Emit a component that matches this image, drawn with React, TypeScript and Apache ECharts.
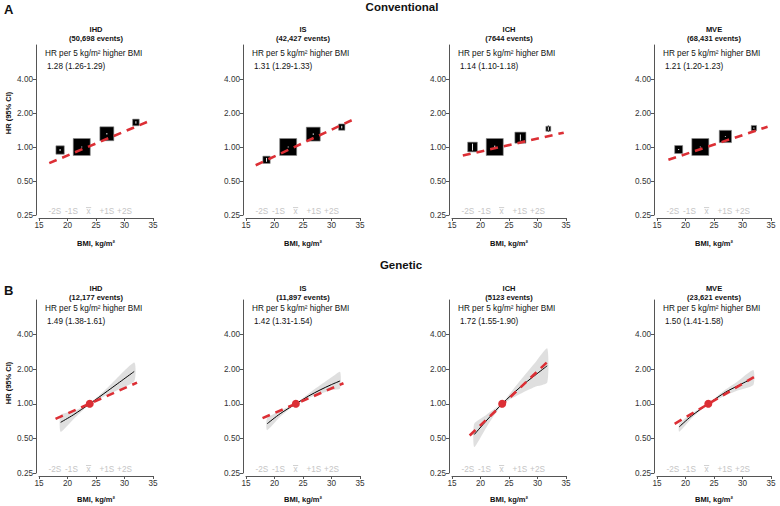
import React, { useEffect, useRef } from 'react';
import * as echarts from 'echarts';

// ---------- Data ----------
const outcomes = ['IHD', 'IS', 'ICH', 'MVE'];
const convEvents = ['(50,698 events)', '(42,427 events)', '(7644 events)', '(68,431 events)'];
const convEstimates = ['1.28 (1.26-1.29)', '1.31 (1.29-1.33)', '1.14 (1.10-1.18)', '1.21 (1.20-1.23)'];
const genEvents = ['(12,177 events)', '(11,897 events)', '(5123 events)', '(23,621 events)'];
const genEstimates = ['1.49 (1.38-1.61)', '1.42 (1.31-1.54)', '1.72 (1.55-1.90)', '1.50 (1.41-1.58)'];

const yTicks = [0.25, 0.5, 1, 2, 4];
const sigmaLabels = ['-2S', '-1S', 'x', '+1S', '+2S'];
const sigmaOverline = [false, false, true, false, false];
const sigmaBMI = [17.8, 20.7, 23.7, 26.9, 30.0];
const sigmaHR = 0.267;

// Conventional boxes: [BMI, HR, lower, upper, relative weight]
const convIHDBoxes = [
  [18.7, 0.94, 0.92, 0.96, 0.49],
  [22.5, 1.0, 0.99, 1.01, 1.0],
  [26.9, 1.31, 1.29, 1.33, 0.82],
  [32.0, 1.65, 1.61, 1.69, 0.39],
];
const convISBoxes = [
  [18.6, 0.77, 0.74, 0.8, 0.43],
  [22.4, 1.0, 0.99, 1.01, 1.0],
  [26.8, 1.3, 1.28, 1.32, 0.82],
  [31.8, 1.5, 1.46, 1.54, 0.37],
];
const convICHBoxes = [
  [18.6, 1.0, 0.93, 1.07, 0.57],
  [22.5, 1.0, 0.97, 1.03, 1.0],
  [27.0, 1.21, 1.14, 1.29, 0.65],
  [31.9, 1.45, 1.36, 1.55, 0.29],
];
const convMVEBoxes = [
  [18.8, 0.95, 0.94, 0.96, 0.47],
  [22.6, 1.0, 0.99, 1.01, 1.0],
  [27.0, 1.24, 1.23, 1.25, 0.72],
  [32.0, 1.47, 1.45, 1.49, 0.31],
];
const convBoxes = [convIHDBoxes, convISBoxes, convICHBoxes, convMVEBoxes];

// Conventional fitted lines (endpoints)
const convIHDLine = [[16.8, 0.72], [34.5, 1.71]];
const convISLine = [[16.7, 0.69], [34.1, 1.78]];
const convICHLine = [[16.9, 0.84], [34.6, 1.34]];
const convMVELine = [[17.0, 0.77], [34.4, 1.51]];
const convLines = [convIHDLine, convISLine, convICHLine, convMVELine];

// Genetic curves [BMI, HR]
const genIHDCurve = [[18.8, 0.69], [21, 0.8], [23.9, 1.0], [27, 1.29], [31.7, 1.91]];
const genISCurve = [[18.7, 0.67], [21, 0.82], [23.75, 1.0], [26, 1.17], [28, 1.32], [30, 1.47], [31.5, 1.58]];
const genICHCurve = [[18.9, 0.54], [21, 0.71], [23.8, 1.0], [27, 1.4], [29.5, 1.76], [31.7, 2.14]];
const genMVECurve = [[18.9, 0.63], [21, 0.78], [24.0, 1.0], [27, 1.26], [29, 1.42], [31.5, 1.64]];
const genCurves = [genIHDCurve, genISCurve, genICHCurve, genMVECurve];

// Genetic confidence bands [BMI, lower, upper]
const genIHDBand = [[18.8, 0.57, 0.8], [21, 0.73, 0.86], [23.9, 0.99, 1.01], [27, 1.2, 1.38], [31.7, 1.57, 2.29]];
const genISBand = [[18.7, 0.59, 0.75], [21, 0.77, 0.87], [23.75, 0.99, 1.01], [26, 1.12, 1.23], [28, 1.22, 1.45], [30, 1.32, 1.7], [31.5, 1.36, 1.9]];
const genICHBand = [[18.9, 0.42, 0.67], [21, 0.62, 0.8], [23.8, 0.98, 1.02], [27, 1.22, 1.6], [29.5, 1.4, 2.25], [31.7, 1.53, 3.04]];
const genMVEBand = [[18.9, 0.57, 0.67], [21, 0.74, 0.82], [24.0, 0.99, 1.01], [27, 1.18, 1.33], [29, 1.3, 1.55], [31.9, 1.46, 1.97]];
const genBands = [genIHDBand, genISBand, genICHBand, genMVEBand];

// Genetic red dashed lines
const genIHDLine = [[17.9, 0.74], [32.2, 1.53]];
const genISLine = [[17.9, 0.75], [32.1, 1.51]];
const genICHLine = [[18.1, 0.53], [31.8, 2.33]];
const genMVELine = [[18.1, 0.67], [32.1, 1.72]];
const genLines = [genIHDLine, genISLine, genICHLine, genMVELine];

// Reference point
const genRefBMI = [23.9, 23.75, 23.8, 24.0];
const refHR = 1;

// ---------- Styling / layout ----------
const FONT = '"Liberation Sans", Arial, Helvetica, sans-serif';
const RED = '#dc2f35';
const PANEL_LEFT = [39, 246, 452, 657];
const PANEL_W = 114;
const ROWS = [
  { top: 45, h: 170 },
  { top: 300, h: 173 },
];
const BOX_PX = 17;
const SIGMA_GREY = '#c4c4c4';

function buildOption() {
  const grid: any[] = [];
  const xAxis: any[] = [];
  const yAxis: any[] = [];
  const series: any[] = [];
  const graphic: any[] = [];

  const text = (t: string, x: number, y: number, size: number, opts: any = {}) => ({
    type: 'text',
    x,
    y,
    rotation: opts.rotation || 0,
    silent: true,
    style: {
      text: t,
      fill: opts.fill || '#111',
      fontSize: size,
      fontWeight: opts.bold ? 'bold' : 'normal',
      fontFamily: FONT,
      align: opts.align || 'left',
      verticalAlign: 'middle',
    },
  });

  ROWS.forEach((row, r) => {
    PANEL_LEFT.forEach((left, c) => {
      const gi = r * 4 + c;
      grid.push({ left, top: row.top, width: PANEL_W, height: row.h, containLabel: false, outerBoundsMode: 'none' });
      xAxis.push({
        gridIndex: gi,
        type: 'value',
        min: 15,
        max: 35,
        interval: 5,
        offset: 3,
        axisLine: { show: true, lineStyle: { color: '#555', width: 1 } },
        axisTick: { show: true, length: 3, lineStyle: { color: '#555' } },
        axisLabel: { fontSize: 8.2, color: '#333', margin: 3, fontFamily: FONT },
        splitLine: { show: false },
      });
      yAxis.push({
        gridIndex: gi,
        type: 'log',
        logBase: 2,
        min: 0.25,
        max: 8,
        offset: 3,
        axisLine: { show: true, lineStyle: { color: '#555', width: 1 } },
        axisTick: { show: true, length: 3, lineStyle: { color: '#555' }, customValues: yTicks },
        axisLabel: {
          fontSize: 8.2,
          color: '#333',
          margin: 3,
          fontFamily: FONT,
          customValues: yTicks,
          formatter: (v: number) => (Number(v) > 5 ? '' : Number(v).toFixed(2)),
        },
        splitLine: { show: false },
        minorTick: { show: false },
      });

      const cx = left + PANEL_W / 2;
      const ev = r === 0 ? convEvents[c] : genEvents[c];
      const est = r === 0 ? convEstimates[c] : genEstimates[c];
      const t0 = r === 0 ? 29 : 288;
      graphic.push(text(outcomes[c], cx, t0, 7.5, { bold: true, align: 'center' }));
      graphic.push(text(ev, cx, t0 + 9, 7.5, { bold: true, align: 'center' }));
      graphic.push(text('HR per 5 kg/m\u00b2 higher BMI', left + 6, row.top + 8.5, 8.2));
      graphic.push(text(est, left + 8, row.top + 21, 8.2));
      graphic.push(text('BMI, kg/m\u00b2', cx, r === 0 ? 243 : 499, 7.5, { bold: true, align: 'center' }));

      // sigma labels
      const sigmaData = sigmaBMI.map((b) => [b, sigmaHR]);
      series.push({
        type: 'custom',
        xAxisIndex: gi,
        yAxisIndex: gi,
        data: sigmaData,
        z: 1,
        silent: true,
        renderItem: (params: any, api: any) => {
          const p = api.coord([api.value(0), api.value(1)]);
          const children: any[] = [
            {
              type: 'text',
              x: p[0],
              y: p[1],
              style: {
                text: sigmaLabels[params.dataIndex],
                fill: SIGMA_GREY,
                fontSize: 8.2,
                fontFamily: FONT,
                align: 'center',
                verticalAlign: 'middle',
              },
            },
          ];
          if (sigmaOverline[params.dataIndex]) {
            children.push({
              type: 'line',
              shape: { x1: p[0] - 2.6, y1: p[1] - 4.2, x2: p[0] + 2.6, y2: p[1] - 4.2 },
              style: { stroke: SIGMA_GREY, lineWidth: 0.8 },
            });
          }
          return { type: 'group', children };
        },
      });

      if (r === 0) {
        series.push({
          type: 'custom',
          xAxisIndex: gi,
          yAxisIndex: gi,
          data: convBoxes[c],
          z: 2,
          clip: false,
          silent: true,
          renderItem: (params: any, api: any) => {
            const x = api.value(0);
            const y = api.value(1);
            const lo = api.value(2);
            const hi = api.value(3);
            const w = api.value(4);
            const p = api.coord([x, y]);
            const pl = api.coord([x, lo]);
            const ph = api.coord([x, hi]);
            const s = w * BOX_PX;
            const top = p[1] - s / 2;
            const bot = p[1] + s / 2;
            return {
              type: 'group',
              children: [
                { type: 'line', shape: { x1: p[0], y1: ph[1], x2: p[0], y2: pl[1] }, style: { stroke: '#000', lineWidth: 1 } },
                { type: 'rect', shape: { x: p[0] - s / 2, y: top, width: s, height: s }, style: { fill: '#000', stroke: '#8a8a8a', lineWidth: 0.6 } },
                {
                  type: 'line',
                  shape: { x1: p[0], y1: Math.max(ph[1], top + 0.8), x2: p[0], y2: Math.min(pl[1], bot - 0.8) },
                  style: { stroke: '#fff', lineWidth: 0.9 },
                },
              ],
            };
          },
        });
        series.push({
          type: 'line',
          xAxisIndex: gi,
          yAxisIndex: gi,
          data: convLines[c],
          symbol: 'none',
          z: 3,
          silent: true,
          lineStyle: { color: RED, width: 2.6, type: [8, 6] },
        });
      } else {
        const band = genBands[c];
        series.push({
          type: 'custom',
          xAxisIndex: gi,
          yAxisIndex: gi,
          data: band,
          z: 1,
          silent: true,
          renderItem: (params: any, api: any) => {
            if (params.dataIndex !== 0) return null;
            const up = band.map((d) => api.coord([d[0], d[2]]));
            const dn = band.map((d) => api.coord([d[0], d[1]])).reverse();
            return {
              type: 'polygon',
              shape: { points: up.concat(dn), smooth: 0.2 },
              style: { fill: '#dcdcdc', opacity: 0.9 },
            };
          },
        });
        series.push({
          type: 'line',
          xAxisIndex: gi,
          yAxisIndex: gi,
          data: genCurves[c],
          symbol: 'none',
          smooth: 0.3,
          z: 3,
          silent: true,
          lineStyle: { color: '#000', width: 1 },
        });
        series.push({
          type: 'line',
          xAxisIndex: gi,
          yAxisIndex: gi,
          data: genLines[c],
          symbol: 'none',
          z: 4,
          silent: true,
          lineStyle: { color: RED, width: 2.6, type: [8, 6] },
        });
        series.push({
          type: 'scatter',
          xAxisIndex: gi,
          yAxisIndex: gi,
          data: [[genRefBMI[c], refHR]],
          symbolSize: 8,
          z: 5,
          silent: true,
          itemStyle: { color: RED, opacity: 1 },
        });
      }
    });
  });

  // Section labels and y-axis titles
  graphic.push(text('A', 4, 9, 13, { bold: true }));
  graphic.push(text('Conventional', 402, 7, 11.5, { bold: true, align: 'center' }));
  graphic.push(text('B', 4, 290, 13, { bold: true }));
  graphic.push(text('Genetic', 401, 265, 11.5, { bold: true, align: 'center' }));
  graphic.push(text('HR (95% CI)', 8, 113, 7.5, { bold: true, align: 'center', rotation: Math.PI / 2 }));
  graphic.push(text('HR (95% CI)', 8, 383, 7.5, { bold: true, align: 'center', rotation: Math.PI / 2 }));

  return {
    animation: false,
    backgroundColor: '#fff',
    textStyle: { fontFamily: FONT },
    grid,
    xAxis,
    yAxis,
    series,
    graphic,
  };
}

export default function App() {
  const ref = useRef<HTMLDivElement>(null);
  useEffect(() => {
    document.body.style.margin = '0';
    if (!ref.current) return;
    const chart = echarts.init(ref.current, null, { renderer: 'svg' });
    chart.setOption(buildOption() as any);
    return () => chart.dispose();
  }, []);
  return <div ref={ref} style={{ position: 'fixed', left: 0, top: 0, width: 780, height: 506 }} />;
}
